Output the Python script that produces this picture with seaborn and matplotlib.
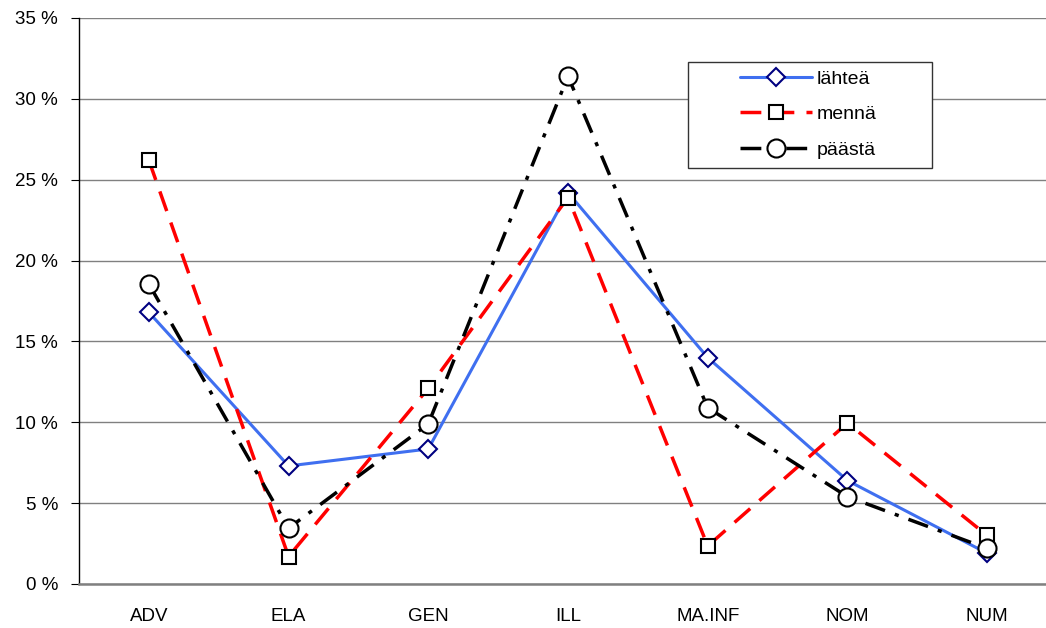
import matplotlib
matplotlib.use("Agg")
import matplotlib.pyplot as plt
import seaborn as sns
import pandas as pd
from matplotlib.ticker import FixedLocator, FuncFormatter
from matplotlib.patches import Rectangle

categories = ["ADV", "ELA", "GEN", "ILL", "MA.INF", "NOM", "NUM"]
lahtea = [16.8, 7.3, 8.35, 24.2, 14.0, 6.4, 1.9]
menna = [26.2, 1.7, 12.1, 23.9, 2.35, 9.95, 3.0]
paasta = [18.55, 3.45, 9.9, 31.4, 10.9, 5.4, 2.2]
series_names = ["lähteä", "mennä", "päästä"]
y_ticks = [0, 5, 10, 15, 20, 25, 30, 35]

sns.set_style("white")
plt.rcParams["font.family"] = ["Liberation Sans", "DejaVu Sans"]
plt.rcParams["text.color"] = "black"
plt.rcParams["xtick.color"] = "black"
plt.rcParams["ytick.color"] = "black"

fig = plt.figure(figsize=(10.46, 6.28), dpi=100)
ax = fig.add_axes([79 / 1046, 1 - 584 / 628, (1057 - 79) / 1046, (584 - 18) / 628])

x = list(range(len(categories)))
styles = [
    dict(color="#3f6ff0", linestyle="-", marker="D", markersize=9, markeredgecolor="#000080",
         markerfacecolor="white", markeredgewidth=1.5, linewidth=2.2),
    dict(color="#ff0000", linestyle=(0, (6, 3.5)), marker="s", markersize=10, markeredgecolor="black",
         markerfacecolor="white", markeredgewidth=1.5, linewidth=2.5),
    dict(color="black", linestyle=(0, (6, 3, 1.2, 3)), marker="o", markersize=13, markeredgecolor="black",
         markerfacecolor="white", markeredgewidth=1.5, linewidth=2.5),
]
for name, vals, st in zip(series_names, [lahtea, menna, paasta], styles):
    df = pd.DataFrame({"x": x, "y": vals})
    sns.lineplot(data=df, x="x", y="y", ax=ax, label=name, **st)

ax.set_xlim(-0.5, 6.5)
ax.set_ylim(0, 35)
ax.yaxis.set_major_locator(FixedLocator(y_ticks))
ax.yaxis.set_major_formatter(FuncFormatter(lambda v, p: f"{int(v)} %"))
ax.set_xticks(x)
ax.set_xticklabels(categories)
ax.set_xticks([i + 0.5 for i in range(len(categories) - 1)], minor=True)
ax.tick_params(axis="x", which="major", length=0, pad=17, labelsize=13.5)
ax.tick_params(axis="x", which="minor", length=5, direction="out", color="#555555", width=0.8)
ax.tick_params(axis="y", length=6, direction="out", color="black", width=0.8, labelsize=13.5, pad=9, left=True)
ax.set_xlabel("")
ax.set_ylabel("")
ax.grid(axis="y", color="#808080", linewidth=1)
ax.set_axisbelow(True)
for s in ["top", "right"]:
    ax.spines[s].set_visible(False)
ax.spines["left"].set_color("black")
ax.spines["left"].set_linewidth(1)
ax.spines["bottom"].set_color("#808080")
ax.spines["bottom"].set_linewidth(1.8)

# legend box
ax.add_patch(Rectangle((688 / 1046, 1 - 168 / 628), (932 - 688) / 1046, (168 - 62) / 628,
                       transform=fig.transFigure, facecolor="white", edgecolor="#333333",
                       linewidth=1.0, zorder=5, clip_on=False))
leg = ax.legend(loc="upper left", bbox_to_anchor=(740 / 1046, 1 - 70 / 628), bbox_transform=fig.transFigure,
                frameon=False, fontsize=14, handlelength=3.7, borderpad=0.0, labelspacing=0.92,
                borderaxespad=0, handletextpad=0.25)
leg.set_zorder(6)

fig.savefig("out.png", dpi=100)
